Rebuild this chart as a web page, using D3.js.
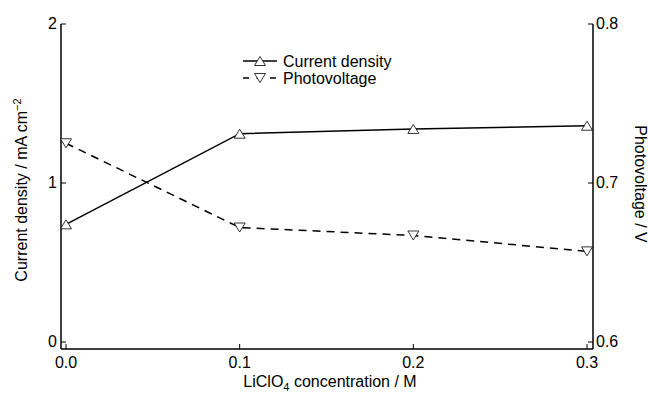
<!DOCTYPE html>
<html>
<head>
<meta charset="utf-8">
<script src="https://cdn.jsdelivr.net/npm/d3@7"></script>
<style>
  body { margin: 0; background: #fff; }
  svg text { font-family: "Liberation Sans", Arial, sans-serif; fill: #000; }
</style>
</head>
<body>
<div id="chart"></div>
<script>
(function(){
  var width = 648,
      height = 403;

  // data
  var concentration = [0.0, 0.1, 0.2, 0.3];
  var currentDensity = [0.74, 1.31, 1.34, 1.36];
  var photovoltage = [0.725, 0.672, 0.667, 0.657];
  var xTicks = [0.0, 0.1, 0.2, 0.3];
  var yLeftTicks = [0, 1, 2];
  var yRightTicks = [0.6, 0.7, 0.8];

  var fs = '16px'

  var svg = d3.select('#chart')
    .append('svg')
    .attr('width', width)
    .attr('height', height)

  var x = d3.scaleLinear().domain([0, 0.3]).range([66, 587])
  var yL = d3.scaleLinear().domain([0, 2]).range([342, 24])
  var yR = d3.scaleLinear().domain([0.6, 0.8]).range([342, 24])

  var axisLeftX = 61, axisRightX = 593, axisBottomY = 349

  // frame lines
  svg.append('line')
    .attr('x1', axisLeftX).attr('x2', axisLeftX)
    .attr('y1', yL(2)).attr('y2', axisBottomY)
    .attr('stroke', '#000').attr('stroke-width', 1.5)
  svg.append('line')
    .attr('x1', axisRightX).attr('x2', axisRightX)
    .attr('y1', yR(0.8)).attr('y2', axisBottomY)
    .attr('stroke', '#000').attr('stroke-width', 1.5)
  svg.append('line')
    .attr('x1', axisLeftX).attr('x2', axisRightX)
    .attr('y1', axisBottomY).attr('y2', axisBottomY)
    .attr('stroke', '#000').attr('stroke-width', 1.5)

  // ticks (inward)
  var xAxis = svg.append('g')
  xAxis.selectAll('line').data(xTicks).enter().append('line')
    .attr('x1', d => x(d)).attr('x2', d => x(d))
    .attr('y1', axisBottomY).attr('y2', axisBottomY - 5)
    .attr('stroke', '#000').attr('stroke-width', 1)
  xAxis.selectAll('text').data(xTicks).enter().append('text')
    .attr('x', d => x(d)).attr('y', axisBottomY + 19)
    .attr('text-anchor', 'middle')
    .style('font-size', fs)
    .text(d => d3.format('.1f')(d))

  var yAxisL = svg.append('g')
  yAxisL.selectAll('line').data(yLeftTicks).enter().append('line')
    .attr('x1', axisLeftX).attr('x2', axisLeftX + 5)
    .attr('y1', d => yL(d)).attr('y2', d => yL(d))
    .attr('stroke', '#000').attr('stroke-width', 1)
  yAxisL.selectAll('text').data(yLeftTicks).enter().append('text')
    .attr('x', axisLeftX - 4).attr('y', d => yL(d) + 5)
    .attr('text-anchor', 'end')
    .style('font-size', fs)
    .text(d => d)

  var yAxisR = svg.append('g')
  yAxisR.selectAll('line').data(yRightTicks).enter().append('line')
    .attr('x1', axisRightX).attr('x2', axisRightX - 5)
    .attr('y1', d => yR(d)).attr('y2', d => yR(d))
    .attr('stroke', '#000').attr('stroke-width', 1)
  yAxisR.selectAll('text').data(yRightTicks).enter().append('text')
    .attr('x', axisRightX + 3).attr('y', d => yR(d) + 5)
    .attr('text-anchor', 'start')
    .style('font-size', fs)
    .text(d => d3.format('.1f')(d))

  // series lines
  var cdData = concentration.map((c, i) => ({c: c, v: currentDensity[i]}))
  var pvData = concentration.map((c, i) => ({c: c, v: photovoltage[i]}))

  svg.append('path')
    .datum(cdData)
    .attr('fill', 'none').attr('stroke', '#000').attr('stroke-width', 1.5)
    .attr('d', d3.line().x(d => x(d.c)).y(d => yL(d.v)))

  svg.append('path')
    .datum(pvData)
    .attr('fill', 'none').attr('stroke', '#000').attr('stroke-width', 1.5)
    .attr('stroke-dasharray', '8,6')
    .attr('d', d3.line().x(d => x(d.c)).y(d => yR(d.v)))

  function triUp(cx, cy) {
    return `M${cx - 5.5},${cy + 4.5} L${cx + 5.5},${cy + 4.5} L${cx},${cy - 4.5} Z`
  }
  function triDown(cx, cy) {
    return `M${cx - 5.5},${cy - 4.5} L${cx + 5.5},${cy - 4.5} L${cx},${cy + 4.5} Z`
  }

  svg.selectAll('.cd-marker').data(cdData).enter().append('path')
    .attr('class', 'cd-marker')
    .attr('d', d => triUp(x(d.c), yL(d.v)))
    .attr('fill', '#fff').attr('stroke', '#000').attr('stroke-width', 0.8)

  svg.selectAll('.pv-marker').data(pvData).enter().append('path')
    .attr('class', 'pv-marker')
    .attr('d', d => triDown(x(d.c), yR(d.v)))
    .attr('fill', '#fff').attr('stroke', '#000').attr('stroke-width', 0.8)

  // legend
  var legend = svg.append('g')
  legend.append('line')
    .attr('x1', 243).attr('x2', 277).attr('y1', 61).attr('y2', 61)
    .attr('stroke', '#000').attr('stroke-width', 1.5)
  legend.append('path').attr('d', triUp(260, 61))
    .attr('fill', '#fff').attr('stroke', '#000').attr('stroke-width', 0.8)
  legend.append('text').attr('x', 283).attr('y', 67)
    .style('font-size', fs).text('Current density')

  legend.append('line')
    .attr('x1', 243).attr('x2', 277).attr('y1', 78).attr('y2', 78)
    .attr('stroke', '#000').attr('stroke-width', 1.5)
    .attr('stroke-dasharray', '6,7.5')
  legend.append('path').attr('d', triDown(260, 78))
    .attr('fill', '#fff').attr('stroke', '#000').attr('stroke-width', 0.8)
  legend.append('text').attr('x', 283).attr('y', 84)
    .style('font-size', fs).text('Photovoltage')

  // axis titles
  var xt = svg.append('text')
    .attr('x', 330).attr('y', 387)
    .attr('text-anchor', 'middle')
    .style('font-size', fs)
  xt.append('tspan').text('LiClO')
  xt.append('tspan').attr('dy', 4).style('font-size', '11px').text('4')
  xt.append('tspan').attr('dy', -4).text(' concentration / M')

  var ylt = svg.append('text')
    .attr('transform', 'translate(27,190) rotate(-90)')
    .attr('text-anchor', 'middle')
    .style('font-size', fs)
  ylt.append('tspan').text('Current density / mA cm')
  ylt.append('tspan').attr('dy', -6).style('font-size', '11px').text('\u22122')

  svg.append('text')
    .attr('transform', 'translate(635,184) rotate(90)')
    .attr('text-anchor', 'middle')
    .style('font-size', fs)
    .text('Photovoltage / V')
})()
</script>
</body>
</html>
